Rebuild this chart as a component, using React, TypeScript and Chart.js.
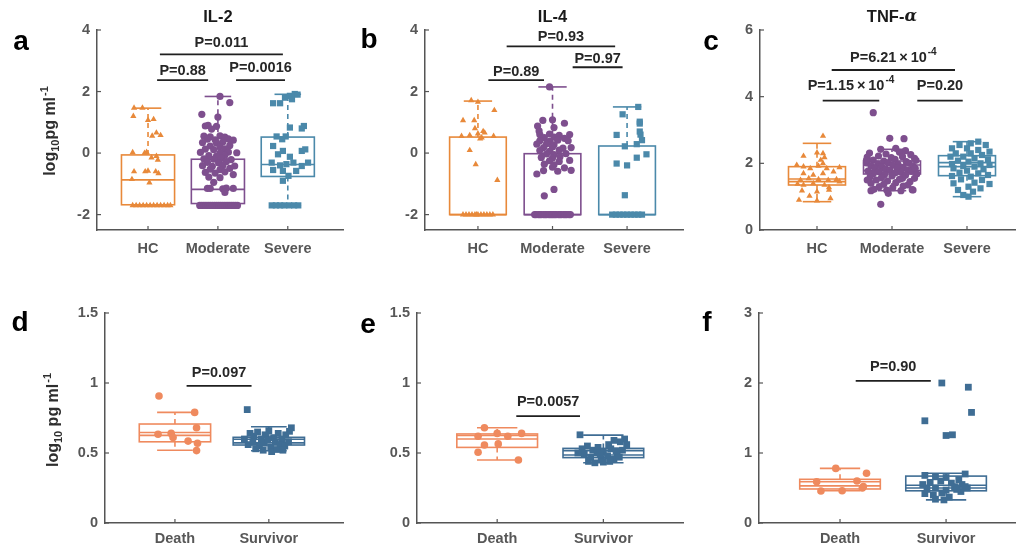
import React, { useEffect, useRef } from "react";
import { Chart, registerables } from "chart.js";

Chart.register(...registerables);

type Pt = [number, number]; // [horizontal jitter (category units), value]
type Box = [number, number, number, number, number]; // lower whisker, q1, median, q3, upper whisker
type Sig = [number, number, number, string, string, number]; // x1, x2, y, label, superscript, label y

// ---------------- categories & ticks ----------------
const CATS_SEVERITY = ["HC", "Moderate", "Severe"];
const CATS_OUTCOME = ["Death", "Survivor"];
const TICKS_IL = [-2, 0, 2, 4];
const TICKS_TNF = [0, 2, 4, 6];
const TICKS_DE = [0, 0.5, 1, 1.5];
const TICKS_F = [0, 1, 2, 3];

// ---------------- panel a : IL-2 ----------------
const IL2_HC: Pt[] = [
  [-0.2, 1.47], [-0.08, 1.47], [-0.21, 1.2], [0.0, 1.07], [0.08, 1.1], [0.06, 0.56], [0.18, 0.58], [0.12, 0.66],
  [-0.22, 0.02], [-0.05, 0.0], [-0.02, 0.03], [0.12, -0.1], [0.14, -0.22], [0.05, -0.15], [-0.2, -0.6], [-0.04, -0.6],
  [0.0, -0.58], [0.15, -0.66], [0.11, -0.6], [-0.23, -0.85], [0.02, -0.96],
  [-0.22, -1.7], [-0.17, -1.7], [-0.12, -1.7], [-0.07, -1.7], [-0.02, -1.7], [0.03, -1.7], [0.08, -1.7], [0.13, -1.7],
  [0.18, -1.7], [0.23, -1.7], [0.28, -1.7], [0.32, -1.7],
];
const IL2_MOD: Pt[] = [
  [0.03, 1.84], [0.17, 1.64], [0.0, 1.17], [-0.23, 1.26], [-0.18, 0.88], [-0.14, 0.9], [-0.02, 0.87], [-0.09, 0.78],
  [-0.2, 0.55], [-0.11, 0.53], [0.03, 0.56], [0.1, 0.52], [-0.15, 0.45], [-0.04, 0.43], [0.15, 0.46], [0.22, 0.42],
  [-0.22, 0.34], [-0.02, 0.33], [0.07, 0.36], [-0.11, 0.23], [0.03, 0.21], [0.17, 0.25], [-0.18, 0.13], [-0.06, 0.11],
  [0.1, 0.14], [-0.25, 0.02], [0.03, 0.0], [0.15, 0.03], [0.27, 0.01], [-0.13, -0.08], [-0.02, -0.1], [0.1, -0.07],
  [-0.2, -0.19], [-0.06, -0.2], [0.05, -0.17], [0.19, -0.21], [-0.15, -0.3], [0.01, -0.32], [0.12, -0.28],
  [-0.22, -0.41], [-0.08, -0.43], [0.07, -0.4], [0.24, -0.42], [-0.11, -0.52], [0.03, -0.54], [0.17, -0.5],
  [-0.18, -0.63], [-0.04, -0.65], [0.1, -0.61], [0.22, -0.7], [-0.13, -0.78], [0.03, -0.8], [-0.06, -0.95],
  [-0.15, -1.15], [-0.11, -1.15], [0.07, -1.16], [0.12, -1.14], [0.22, -1.15], [0.1, -1.28],
  [-0.26, -1.7], [-0.23, -1.7], [-0.2, -1.7], [-0.17, -1.7], [-0.14, -1.7], [-0.11, -1.7], [-0.08, -1.7],
  [-0.05, -1.7], [-0.02, -1.7], [0.01, -1.7], [0.04, -1.7], [0.07, -1.7], [0.1, -1.7], [0.13, -1.7],
  [0.16, -1.7], [0.19, -1.7], [0.22, -1.7], [0.25, -1.7], [0.28, -1.7],
];
const IL2_SEV: Pt[] = [
  [-0.21, 1.62], [-0.11, 1.62], [-0.04, 1.8], [0.03, 1.86], [0.1, 1.92], [0.06, 1.75], [0.14, 1.9],
  [0.03, 0.83], [0.23, 0.88], [0.2, 0.8], [-0.16, 0.54], [-0.03, 0.54], [-0.08, 0.45],
  [-0.21, 0.23], [-0.07, 0.07], [0.2, 0.07], [0.25, 0.12], [-0.14, -0.04], [0.03, -0.12],
  [-0.23, -0.31], [-0.11, -0.4], [0.08, -0.31], [0.2, -0.42], [0.29, -0.31], [-0.02, -0.36],
  [-0.21, -0.55], [-0.07, -0.58], [0.12, -0.58], [0.01, -0.74], [-0.07, -0.9],
  [-0.23, -1.7], [-0.17, -1.7], [-0.11, -1.7], [-0.05, -1.7], [0.02, -1.7], [0.09, -1.7], [0.15, -1.7],
];
const IL2_BOX: Box[] = [
  [-1.7, -1.68, -0.87, -0.06, 1.46],
  [-1.7, -1.64, -1.18, -0.2, 1.84],
  [-1.7, -0.76, -0.37, 0.52, 1.91],
];
const IL2_SIG: Sig[] = [
  [1.17, 2.93, 3.21, "P=0.011", "", 3.57],
  [1.13, 1.86, 2.37, "P=0.88", "", 2.67],
  [2.26, 2.96, 2.37, "P=0.0016", "", 2.77],
];

// ---------------- panel b : IL-4 ----------------
const IL4_HC: Pt[] = [
  [-0.09, 1.71], [0.0, 1.66], [-0.2, 1.06], [-0.05, 1.06], [0.22, 1.39], [-0.04, 0.8], [0.07, 0.71], [0.09, 0.66],
  [0.0, 0.63], [-0.22, 0.55], [-0.11, 0.58], [0.21, 0.55], [0.05, 0.5], [0.03, 0.47], [-0.11, 0.09], [-0.03, -0.37],
  [0.26, -0.88],
  [-0.2, -2], [-0.16, -2], [-0.12, -2], [-0.08, -2], [-0.04, -2], [0.0, -2], [0.04, -2], [0.08, -2], [0.12, -2],
  [0.16, -2], [0.2, -2], [-0.02, -2],
];
const IL4_MOD: Pt[] = [
  [-0.04, 2.15], [-0.13, 1.06], [0.0, 1.08], [0.16, 0.97], [-0.2, 0.88], [-0.18, 0.72], [0.02, 0.83],
  [-0.17, 0.6], [-0.04, 0.62], [0.09, 0.58], [0.23, 0.6], [-0.11, 0.5], [0.02, 0.52], [0.16, 0.48],
  [-0.17, 0.4], [-0.04, 0.38], [0.07, 0.42], [0.21, 0.4], [-0.21, 0.29], [-0.08, 0.3], [0.02, 0.27],
  [-0.12, 0.18], [0.0, 0.2], [0.14, 0.16], [0.25, 0.18], [-0.17, 0.08], [-0.04, 0.06], [0.09, 0.1],
  [-0.08, -0.03], [0.02, -0.05], [0.18, -0.02], [-0.15, -0.14], [0.0, -0.16], [0.1, -0.12],
  [-0.04, -0.25], [0.09, -0.27], [0.23, -0.24], [-0.11, -0.36], [0.02, -0.38], [0.0, -0.46], [0.16, -0.48],
  [-0.12, -0.57], [0.07, -0.59], [0.25, -0.56], [-0.21, -0.68], [0.02, -1.18], [-0.11, -1.39],
  [-0.24, -2], [-0.22, -2], [-0.19, -2], [-0.17, -2], [-0.15, -2], [-0.12, -2], [-0.1, -2], [-0.08, -2],
  [-0.05, -2], [-0.03, -2], [-0.01, -2], [0.01, -2], [0.03, -2], [0.05, -2], [0.08, -2], [0.1, -2],
  [0.12, -2], [0.15, -2], [0.17, -2], [0.19, -2], [0.22, -2], [0.24, -2],
];
const IL4_SEV: Pt[] = [
  [0.15, 1.5], [-0.06, 1.26], [0.17, 0.96], [0.17, 1.02], [-0.14, 0.59], [0.18, 0.6], [0.17, 0.7], [0.2, 0.42],
  [-0.03, 0.22], [0.13, 0.29], [0.26, -0.04], [-0.14, -0.34], [0.0, -0.4], [0.13, -0.15], [-0.03, -1.37],
  [-0.2, -2], [-0.15, -2], [-0.1, -2], [-0.05, -2], [0.0, -2], [0.05, -2], [0.1, -2], [0.15, -2], [0.2, -2],
];
const IL4_BOX: Box[] = [
  [-2, -2, -2, 0.52, 1.69],
  [-2, -2, -2, -0.02, 2.15],
  [-2, -2, -2, 0.23, 1.5],
];
const IL4_SIG: Sig[] = [
  [1.385, 2.84, 3.47, "P=0.93", "", 3.76],
  [1.14, 1.886, 2.37, "P=0.89", "", 2.65],
  [2.27, 2.94, 2.79, "P=0.97", "", 3.07],
];

// ---------------- panel c : TNF-α ----------------
const TNF_HC: Pt[] = [
  [0.08, 2.82], [-0.18, 2.22], [0.0, 2.32], [0.08, 2.3], [0.1, 2.18], [0.05, 2.1], [0.08, 2.0], [-0.27, 1.95],
  [-0.18, 1.9], [-0.09, 1.85], [0.02, 1.92], [0.13, 1.85], [0.3, 1.88], [-0.18, 1.7], [-0.05, 1.65], [0.08, 1.7],
  [0.22, 1.75], [-0.22, 1.5], [-0.11, 1.55], [0.02, 1.52], [0.15, 1.5], [0.26, 1.52], [-0.18, 1.35], [-0.05, 1.4],
  [0.1, 1.35], [0.16, 1.28], [-0.2, 1.18], [0.0, 1.15], [0.16, 1.2], [-0.24, 0.9], [0.0, 0.88], [0.18, 0.95],
  [-0.1, 1.02], [0.3, 1.45], [-0.26, 1.38],
];
const TNF_MOD: Pt[] = [
  [-0.25, 3.52], [-0.03, 2.75], [0.16, 2.74], [-0.15, 0.77], [-0.05, 1.1], [0.28, 1.2], [-0.28, 1.18],
  [-0.15, 2.42], [0.05, 2.45], [0.18, 2.38], [-0.3, 2.31], [-0.08, 2.28], [0.1, 2.33], [0.25, 2.26],
  [-0.33, 2.19], [-0.18, 2.22], [-0.01, 2.17], [0.14, 2.2], [0.3, 2.15], [-0.25, 2.1], [-0.11, 2.07],
  [0.04, 2.12], [0.19, 2.05], [0.32, 2.09], [-0.34, 2.01], [-0.19, 1.98], [-0.05, 2.02], [0.08, 1.97],
  [0.23, 2.0], [-0.28, 1.93], [-0.14, 1.9], [0.01, 1.94], [0.15, 1.88], [0.28, 1.92], [-0.23, 1.85],
  [-0.08, 1.83], [0.07, 1.86], [0.21, 1.8], [-0.32, 1.77], [-0.17, 1.75], [-0.03, 1.79], [0.12, 1.73],
  [0.26, 1.76], [-0.25, 1.69], [-0.1, 1.66], [0.04, 1.71], [0.18, 1.64], [0.33, 1.68], [-0.29, 1.6],
  [-0.14, 1.57], [0.0, 1.62], [0.14, 1.55], [-0.21, 1.5], [-0.06, 1.47], [0.1, 1.52], [0.24, 1.45],
  [-0.28, 1.4], [-0.11, 1.37], [0.05, 1.42], [0.21, 1.35], [-0.17, 1.3], [0.01, 1.27], [0.15, 1.32],
  [-0.24, 1.22], [-0.07, 1.2], [0.27, 1.21], [0.12, 1.18], [0.3, 1.55], [-0.33, 1.5], [0.31, 1.85], [-0.34, 2.1],
];
const TNF_SEV: Pt[] = [
  [0.15, 2.65], [0.05, 2.6], [-0.1, 2.55], [0.25, 2.55], [-0.2, 2.45], [0.0, 2.45], [0.15, 2.4], [0.3, 2.35],
  [-0.15, 2.3], [0.05, 2.3], [0.2, 2.25], [-0.22, 2.2], [-0.05, 2.2], [0.1, 2.15], [0.28, 2.12], [-0.12, 2.08],
  [0.02, 2.05], [0.18, 2.0], [-0.2, 1.98], [0.3, 1.95], [-0.05, 1.92], [0.1, 1.9], [-0.18, 1.85], [0.22, 1.82],
  [0.0, 1.78], [-0.1, 1.72], [0.15, 1.7], [0.28, 1.65], [-0.2, 1.62], [0.05, 1.6], [-0.08, 1.52], [0.2, 1.5],
  [0.1, 1.42], [-0.18, 1.4], [0.3, 1.38], [0.02, 1.3], [0.18, 1.25], [-0.12, 1.2], [0.08, 1.15], [-0.05, 1.05],
  [0.02, 1.0],
];
const TNF_BOX: Box[] = [
  [0.85, 1.35, 1.49, 1.9, 2.6],
  [1.18, 1.68, 1.86, 2.07, 2.42],
  [1.0, 1.63, 1.97, 2.23, 2.65],
];
const TNF_NOTCH: Pt[] = [[1.45, 1.53], [1.78, 1.95], [1.9, 2.02]];
const TNF_SIG: Sig[] = [
  [1.196, 2.84, 4.8, "P=6.21\u2009\u00d7\u200910", "-4", 5.16],
  [1.076, 1.83, 3.88, "P=1.15\u2009\u00d7\u200910", "-4", 4.32],
  [2.337, 2.943, 3.88, "P=0.20", "", 4.32],
];

// ---------------- panel d ----------------
const D_DEATH: Pt[] = [
  [-0.17, 0.907], [0.21, 0.79], [0.23, 0.68], [-0.18, 0.634], [-0.04, 0.64], [-0.02, 0.61], [0.14, 0.585],
  [0.24, 0.57], [0.23, 0.517],
];
const D_SURV: Pt[] = [
  [-0.23, 0.81], [0.24, 0.68], [0.22, 0.655], [-0.26, 0.6], [-0.2, 0.64], [-0.16, 0.62], [-0.12, 0.65],
  [-0.08, 0.6], [-0.04, 0.63], [0.0, 0.66], [0.05, 0.61], [0.1, 0.64], [0.14, 0.6], [0.18, 0.63], [-0.22, 0.56],
  [-0.17, 0.58], [-0.1, 0.55], [-0.05, 0.57], [0.02, 0.54], [0.07, 0.58], [0.12, 0.56], [0.17, 0.55],
  [0.21, 0.58], [-0.14, 0.53], [-0.06, 0.52], [0.03, 0.51], [0.09, 0.525], [0.15, 0.52], [-0.01, 0.595],
];
const D_BOX: Box[] = [
  [0.52, 0.58, 0.636, 0.707, 0.79],
  [0.516, 0.557, 0.585, 0.612, 0.688],
];
const D_NOTCH: Pt[] = [[0.626, 0.646], [0.572, 0.598]];
const D_SIG: Sig[] = [[1.124, 1.816, 0.98, "P=0.097", "", 1.07]];

// ---------------- panel e ----------------
const E_DEATH: Pt[] = [
  [-0.12, 0.68], [-0.18, 0.62], [0.0, 0.64], [0.1, 0.62], [0.23, 0.64], [-0.12, 0.557], [0.01, 0.565],
  [-0.18, 0.505], [0.2, 0.45],
];
const E_SURV: Pt[] = [
  [-0.22, 0.63], [0.2, 0.6], [0.16, 0.58], [0.1, 0.59], [0.05, 0.56], [0.22, 0.56], [-0.2, 0.53], [-0.15, 0.55],
  [-0.1, 0.52], [-0.05, 0.54], [0.0, 0.51], [0.07, 0.53], [0.13, 0.5], [0.18, 0.52], [-0.18, 0.49], [-0.12, 0.47],
  [-0.06, 0.5], [-0.02, 0.46], [0.04, 0.48], [0.1, 0.455], [0.15, 0.47], [-0.14, 0.44], [-0.08, 0.43],
  [0.0, 0.435], [0.06, 0.44], [-0.03, 0.49], [0.12, 0.515], [-0.24, 0.5],
];
const E_BOX: Box[] = [
  [0.45, 0.54, 0.617, 0.636, 0.68],
  [0.43, 0.467, 0.5, 0.533, 0.628],
];
const E_NOTCH: Pt[] = [[0.6, 0.625], [0.486, 0.517]];
const E_SIG: Sig[] = [[1.18, 1.78, 0.764, "P=0.0057", "", 0.866]];

// ---------------- panel f ----------------
const F_DEATH: Pt[] = [
  [-0.04, 0.78], [0.25, 0.71], [-0.22, 0.59], [0.16, 0.6], [0.22, 0.52], [-0.18, 0.457], [0.02, 0.46], [0.21, 0.5],
];
const F_SURV: Pt[] = [
  [-0.04, 2.0], [0.21, 1.94], [0.24, 1.58], [-0.2, 1.46], [0.0, 1.25], [0.06, 1.26],
  [-0.2, 0.68], [-0.1, 0.66], [0.0, 0.65], [0.18, 0.7], [0.12, 0.62], [-0.22, 0.55], [-0.15, 0.58], [-0.05, 0.6],
  [0.05, 0.57], [0.15, 0.55], [0.2, 0.5], [-0.18, 0.48], [-0.1, 0.5], [0.0, 0.47], [0.08, 0.52], [0.14, 0.45],
  [-0.2, 0.42], [-0.12, 0.4], [-0.04, 0.43], [0.1, 0.48], [-0.1, 0.34], [-0.02, 0.33], [0.03, 0.37], [0.18, 0.52],
];
const F_BOX: Box[] = [
  [0.46, 0.486, 0.56, 0.624, 0.78],
  [0.33, 0.46, 0.52, 0.67, 0.71],
];
const F_NOTCH: Pt[] = [[0.53, 0.59], [0.5, 0.54]];
const F_SIG: Sig[] = [[1.148, 1.856, 2.03, "P=0.90", "", 2.23]];

// ---------------- styles ----------------
const FONT = "'Liberation Sans', Arial, Helvetica, sans-serif";
const TICK_COLOR = "#575757";
const AXIS_COLOR = "#555555";
const TOP_COLORS = ["#E8893A", "#7E4F8E", "#4B89AA"];
const BOT_COLORS = ["#EF8A5E", "#3F6D94"];
const TOP_STYLES = ["triangle", "circle", "rect"];
const TOP_RADII = [3.6, 3.6, 4.4];
const BOT_STYLES = ["circle", "rect"];
const BOT_RADII = [3.8, 4.8];
const AXIS_W = 40;
const AXIS_H = 30;
const BOX_HW = 0.38;
const CAP_HW = 0.19;

type Panel = {
  letter: string;
  title?: string;
  cats: string[];
  groups: Pt[][];
  boxes: Box[];
  notches?: Pt[];
  sig: Sig[];
  yTicks: number[];
  colors: string[];
  styles: string[];
  radii: number[];
  ylabel?: [string, string, string, string];
  L: {
    l: number; t: number; r: number; b: number;
    xMin: number; xMax: number; yMin: number; yMax: number;
    xPad: number; letterX: number; letterY: number; titleY?: number;
    ylX?: number; ylY?: number;
  };
};

const PANELS: Panel[] = [
  {
    letter: "a", title: "IL-2", cats: CATS_SEVERITY, groups: [IL2_HC, IL2_MOD, IL2_SEV], boxes: IL2_BOX,
    sig: IL2_SIG, yTicks: TICKS_IL, colors: TOP_COLORS, styles: TOP_STYLES, radii: TOP_RADII,
    ylabel: ["log", "10", "pg ml", "-1"],
    L: { l: 97, t: 30, r: 343, b: 230, xMin: 0.27, xMax: 3.79, yMin: -2.5, yMax: 4, xPad: 10, letterX: 21, letterY: 42, titleY: 17, ylX: 51, ylY: 131 },
  },
  {
    letter: "b", title: "IL-4", cats: CATS_SEVERITY, groups: [IL4_HC, IL4_MOD, IL4_SEV], boxes: IL4_BOX,
    sig: IL4_SIG, yTicks: TICKS_IL, colors: TOP_COLORS, styles: TOP_STYLES, radii: TOP_RADII,
    L: { l: 425, t: 30, r: 683, b: 230, xMin: 0.29, xMax: 3.75, yMin: -2.5, yMax: 4, xPad: 10, letterX: 369, letterY: 40, titleY: 17 },
  },
  {
    letter: "c", title: "TNF-", cats: CATS_SEVERITY, groups: [TNF_HC, TNF_MOD, TNF_SEV], boxes: TNF_BOX,
    notches: TNF_NOTCH, sig: TNF_SIG, yTicks: TICKS_TNF, colors: TOP_COLORS, styles: TOP_STYLES, radii: TOP_RADII,
    L: { l: 760, t: 30, r: 1015, b: 230, xMin: 0.24, xMax: 3.64, yMin: 0, yMax: 6, xPad: 10, letterX: 711, letterY: 42, titleY: 17 },
  },
  {
    letter: "d", cats: CATS_OUTCOME, groups: [D_DEATH, D_SURV], boxes: D_BOX, notches: D_NOTCH, sig: D_SIG,
    yTicks: TICKS_DE, colors: BOT_COLORS, styles: BOT_STYLES, radii: BOT_RADII,
    ylabel: ["log", "10", " pg ml", "-1"],
    L: { l: 105, t: 313, r: 343, b: 523, xPad: 7, xMin: 0.255, xMax: 2.79, yMin: 0, yMax: 1.5, letterX: 20, letterY: 323, ylX: 54, ylY: 420 },
  },
  {
    letter: "e", cats: CATS_OUTCOME, groups: [E_DEATH, E_SURV], boxes: E_BOX, notches: E_NOTCH, sig: E_SIG,
    yTicks: TICKS_DE, colors: BOT_COLORS, styles: BOT_STYLES, radii: BOT_RADII,
    L: { l: 417, t: 313, r: 683, b: 523, xPad: 7, xMin: 0.245, xMax: 2.75, yMin: 0, yMax: 1.5, letterX: 368, letterY: 325 },
  },
  {
    letter: "f", cats: CATS_OUTCOME, groups: [F_DEATH, F_SURV], boxes: F_BOX, notches: F_NOTCH, sig: F_SIG,
    yTicks: TICKS_F, colors: BOT_COLORS, styles: BOT_STYLES, radii: BOT_RADII,
    L: { l: 759, t: 313, r: 1015, b: 523, xPad: 7, xMin: 0.236, xMax: 2.65, yMin: 0, yMax: 3, letterX: 707, letterY: 323 },
  },
];

function line(ctx: CanvasRenderingContext2D, x1: number, y1: number, x2: number, y2: number) {
  ctx.beginPath();
  ctx.moveTo(x1, y1);
  ctx.lineTo(x2, y2);
  ctx.stroke();
}

function makePlugin(p: Panel) {
  return {
    id: "boxes_" + p.letter,
    beforeDatasetsDraw(chart: any) {
      const { ctx, scales } = chart;
      const xs = scales.x, ys = scales.y;
      ctx.save();
      p.boxes.forEach((b, i) => {
        const c = i + 1;
        const [lo, q1, med, q3, hi] = b;
        const xl = xs.getPixelForValue(c - BOX_HW), xr = xs.getPixelForValue(c + BOX_HW);
        const xc = xs.getPixelForValue(c);
        const cl = xs.getPixelForValue(c - CAP_HW), cr = xs.getPixelForValue(c + CAP_HW);
        ctx.strokeStyle = p.colors[i];
        ctx.lineWidth = 1.6;
        ctx.setLineDash([]);
        const yq1 = ys.getPixelForValue(q1), yq3 = ys.getPixelForValue(q3);
        ctx.strokeRect(xl, yq3, xr - xl, yq1 - yq3);
        if (p.notches) {
          const [n1, n2] = p.notches[i];
          line(ctx, xl, ys.getPixelForValue(n1), xr, ys.getPixelForValue(n1));
          line(ctx, xl, ys.getPixelForValue(n2), xr, ys.getPixelForValue(n2));
        } else {
          line(ctx, xl, ys.getPixelForValue(med), xr, ys.getPixelForValue(med));
        }
        // caps
        line(ctx, cl, ys.getPixelForValue(hi), cr, ys.getPixelForValue(hi));
        line(ctx, cl, ys.getPixelForValue(lo), cr, ys.getPixelForValue(lo));
        // dashed whiskers
        ctx.setLineDash([5, 4]);
        if (hi > q3) line(ctx, xc, yq3, xc, ys.getPixelForValue(hi));
        if (lo < q1) line(ctx, xc, yq1, xc, ys.getPixelForValue(lo));
        ctx.setLineDash([]);
      });
      ctx.restore();
    },
    afterDatasetsDraw(chart: any) {
      const { ctx, scales } = chart;
      const xs = scales.x, ys = scales.y;
      ctx.save();
      p.sig.forEach(([x1, x2, y, label, sup, ty]) => {
        ctx.strokeStyle = "#1f1f1f";
        ctx.lineWidth = 1.8;
        const py = ys.getPixelForValue(y);
        line(ctx, xs.getPixelForValue(x1), py, xs.getPixelForValue(x2), py);
        const cx = xs.getPixelForValue((x1 + x2) / 2);
        const cy = ys.getPixelForValue(ty);
        const mainFont = `bold 14.5px ${FONT}`;
        const supFont = `bold 10px ${FONT}`;
        ctx.font = mainFont;
        const w1 = ctx.measureText(label).width;
        ctx.font = supFont;
        const w2 = sup ? ctx.measureText(sup).width + 1 : 0;
        const x0 = cx - (w1 + w2) / 2;
        ctx.fillStyle = "#262626";
        ctx.textAlign = "left";
        ctx.textBaseline = "middle";
        ctx.font = mainFont;
        ctx.fillText(label, x0, cy);
        if (sup) {
          ctx.font = supFont;
          ctx.fillText(sup, x0 + w1 + 1, cy - 6);
        }
      });
      ctx.restore();
    },
    afterDraw(chart: any) {
      const { ctx, scales, chartArea } = chart;
      const xs = scales.x, ys = scales.y;
      ctx.save();
      // inward ticks
      ctx.strokeStyle = AXIS_COLOR;
      ctx.lineWidth = 1.2;
      p.yTicks.forEach((v) => {
        const py = ys.getPixelForValue(v);
        line(ctx, chartArea.left, py, chartArea.left + 4, py);
      });
      p.cats.forEach((_, i) => {
        const px = xs.getPixelForValue(i + 1);
        line(ctx, px, chartArea.bottom, px, chartArea.bottom - 4);
      });
      // panel letter
      ctx.fillStyle = "#000";
      ctx.font = `bold 28px ${FONT}`;
      ctx.textAlign = "center";
      ctx.textBaseline = "middle";
      ctx.fillText(p.letter, p.L.letterX, p.L.letterY);
      // title
      if (p.title) {
        const tx = xs.getPixelForValue(2);
        ctx.fillStyle = "#1a1a1a";
        ctx.textBaseline = "middle";
        if (p.letter === "c") {
          ctx.font = `bold 16.5px ${FONT}`;
          const w1 = ctx.measureText(p.title).width;
          ctx.font = `italic bold 16.5px 'DejaVu Serif', serif`;
          const w2 = ctx.measureText("\u03b1").width;
          const x0 = tx - (w1 + w2) / 2;
          ctx.textAlign = "left";
          ctx.font = `bold 16.5px ${FONT}`;
          ctx.fillText(p.title, x0, p.L.titleY);
          ctx.font = `italic bold 16.5px 'DejaVu Serif', serif`;
          ctx.fillText("\u03b1", x0 + w1, p.L.titleY);
        } else {
          ctx.font = `bold 16.5px ${FONT}`;
          ctx.textAlign = "center";
          ctx.fillText(p.title, tx, p.L.titleY);
        }
      }
      // y label
      if (p.ylabel) {
        const [a, sub, b, sup] = p.ylabel;
        const big = `bold 16px ${FONT}`;
        const small = `bold 11px ${FONT}`;
        ctx.font = big;
        const wa = ctx.measureText(a).width;
        const wb = ctx.measureText(b).width;
        ctx.font = small;
        const ws = ctx.measureText(sub).width;
        const wp = ctx.measureText(sup).width;
        const total = wa + ws + wb + wp + 1;
        ctx.translate(p.L.ylX!, p.L.ylY!);
        ctx.rotate(-Math.PI / 2);
        ctx.fillStyle = "#2e2e2e";
        ctx.textAlign = "left";
        ctx.textBaseline = "middle";
        let x = -total / 2;
        ctx.font = big;
        ctx.fillText(a, x, 0);
        x += wa;
        ctx.font = small;
        ctx.fillText(sub, x, 5);
        x += ws;
        ctx.font = big;
        ctx.fillText(b, x, 0);
        x += wb + 1;
        ctx.font = small;
        ctx.fillText(sup, x, -6);
      }
      ctx.restore();
    },
  };
}

function buildConfig(p: Panel): any {
  const L = p.L;
  const tickFont = { family: FONT, size: 14.5, weight: "bold" as const };
  return {
    type: "scatter",
    data: {
      datasets: p.groups.map((g, i) => ({
        data: g.map(([dx, v]) => ({ x: i + 1 + dx, y: v })),
        pointStyle: p.styles[i],
        pointRadius: p.radii[i],
        pointBackgroundColor: p.colors[i],
        pointBorderColor: p.colors[i],
        pointBorderWidth: 0,
        showLine: false,
      })),
    },
    options: {
      responsive: false,
      animation: false,
      devicePixelRatio: 1,
      events: [],
      layout: {
        padding: { left: L.l - AXIS_W, top: L.t, right: 1020 - L.r, bottom: 552 - L.b - AXIS_H },
      },
      plugins: { legend: { display: false }, tooltip: { enabled: false }, title: { display: false } },
      scales: {
        x: {
          type: "linear",
          min: L.xMin,
          max: L.xMax,
          afterBuildTicks: (s: any) => {
            s.ticks = p.cats.map((_, i) => ({ value: i + 1 }));
          },
          afterFit: (s: any) => {
            s.height = AXIS_H;
          },
          ticks: {
            callback: (v: number) => p.cats[Math.round(v) - 1] ?? "",
            autoSkip: false,
            maxRotation: 0,
            minRotation: 0,
            padding: L.xPad,
            color: TICK_COLOR,
            font: tickFont,
          },
          grid: { display: true, drawOnChartArea: false, drawTicks: false },
          border: { display: true, color: AXIS_COLOR, width: 1.5 },
        },
        y: {
          type: "linear",
          min: L.yMin,
          max: L.yMax,
          afterBuildTicks: (s: any) => {
            s.ticks = p.yTicks.map((v) => ({ value: v }));
          },
          afterFit: (s: any) => {
            s.width = AXIS_W;
          },
          ticks: {
            callback: (v: number) => String(v),
            padding: 7,
            color: TICK_COLOR,
            font: tickFont,
          },
          grid: { display: true, drawOnChartArea: false, drawTicks: false },
          border: { display: true, color: AXIS_COLOR, width: 1.5 },
        },
      },
    },
    plugins: [makePlugin(p)],
  };
}

function PanelCanvas({ p }: { p: Panel }) {
  const ref = useRef<HTMLCanvasElement | null>(null);
  useEffect(() => {
    if (!ref.current) return;
    const chart = new Chart(ref.current, buildConfig(p));
    return () => chart.destroy();
  }, [p]);
  return (
    <canvas
      ref={ref}
      width={1020}
      height={552}
      style={{ position: "absolute", left: 0, top: 0, width: 1020, height: 552 }}
    />
  );
}

export default function App() {
  return (
    <div style={{ position: "fixed", left: 0, top: 0, width: 1020, height: 552, background: "#fff", overflow: "hidden" }}>
      {PANELS.map((p) => (
        <PanelCanvas key={p.letter} p={p} />
      ))}
    </div>
  );
}
